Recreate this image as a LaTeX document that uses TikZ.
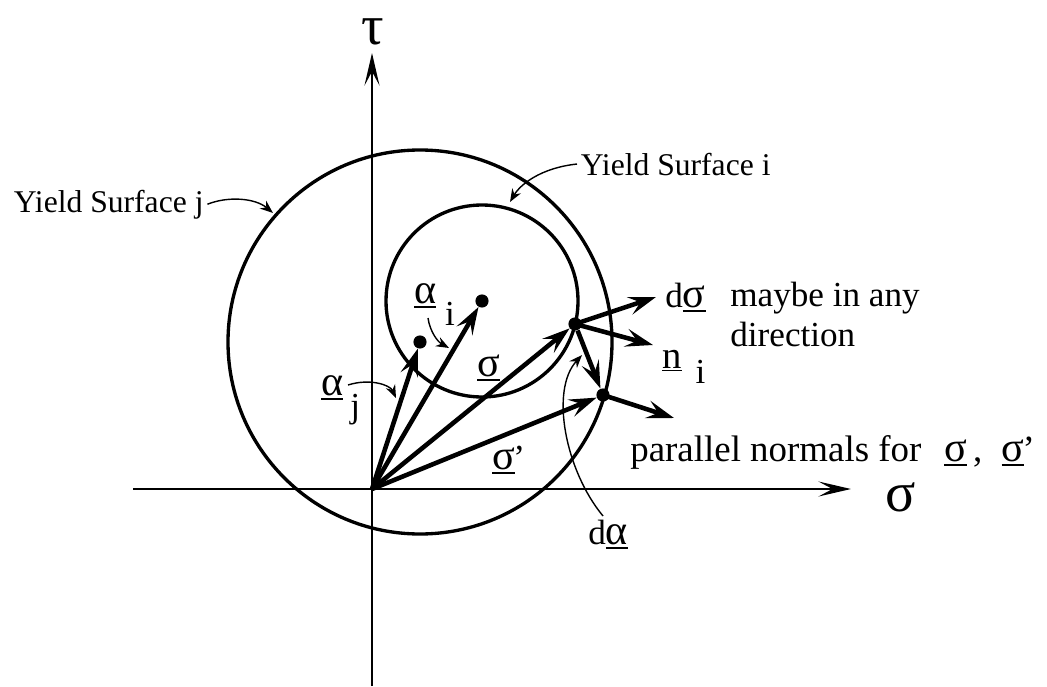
\documentclass[tikz,border=0pt]{standalone}
\usepackage{fontspec}
\setmainfont{Liberation Serif}
\usepackage{tikz}
\usetikzlibrary{arrows.meta}

% underlined Greek vector symbol
\newcommand{\vecg}[1]{\vtop{\hbox{\fontsize{24}{24}\selectfont #1}\kern1.2pt\hrule height 1.2pt}}

\begin{document}
\begin{tikzpicture}[
    x=0.02cm, y=-0.02cm,
    axis/.style={line width=1.6pt, -{Stealth[length=6.5mm, width=3mm, inset=2.8mm]}},
    surf/.style={line width=1.9pt},
    vec/.style={line width=2.6pt, -{Stealth[length=5.5mm, width=3.6mm, inset=2.2mm]}},
    pointer/.style={line width=0.8pt, -{Stealth[length=2.6mm, width=2mm]}},
    dot/.style={circle, fill=black, inner sep=0pt, minimum size=7.5pt},
    lbl/.style={inner sep=0pt, anchor=base west, font=\fontsize{20}{23}\selectfont},
    ys/.style={lbl, inner sep=2pt, font=\fontsize{18}{21}\selectfont},
    big/.style={inner sep=0pt, font=\fontsize{32}{32}\selectfont}
  ]
  \useasboundingbox (0,0) rectangle (1047,686);

  % axes
  \coordinate (O) at (372,489);
  \coordinate (xbeg) at (133,489);
  \coordinate (xtip) at (851,489);
  \coordinate (ybeg) at (372,686);
  \coordinate (ytip) at (372,53);
  \draw[axis] (xbeg) -- (xtip);
  \draw[axis, line width=1.3pt] (ybeg) -- (ytip);
  \node[big] (tau) at (373,32) {τ};
  \node[big] (sig) at (901,497) {σ};

  % centres and yield surfaces
  \node[dot] (aj) at (420,342) {};
  \node[dot] (ai) at (482,301) {};
  \draw[surf] (aj.center) circle[radius=192];
  \draw[surf] (ai.center) circle[radius=96];

  % stress points
  \node[dot] (s) at (575,324) {};
  \node[dot] (sp) at (603,395) {};
  \coordinate (dstip) at (656,297);
  \coordinate (nitip) at (653,345);
  \coordinate (nptip) at (674,418);

  \draw[vec] (O) -- (aj);
  \draw[vec] (O) -- (ai);
  \draw[vec] (O) -- (s);
  \draw[vec] (O) -- (sp);
  \draw[vec] (s) -- (sp);
  \draw[vec] (s.center) -- (dstip);
  \draw[vec] (s.center) -- (nitip);
  \draw[vec] (sp.center) -- (nptip);

  % labels
  \node[lbl] (ajlbl) at (321,395) {\vecg{α}\kern4pt\raisebox{-13pt}{j}};
  \node[lbl] (ailbl) at (414,303) {\vecg{α}\kern5pt\raisebox{-13pt}{i}};
  \node[lbl] (slbl) at (477,376) {\vecg{σ}};
  \node[lbl] (splbl) at (492,469) {\vecg{σ}\kern-1pt'};
  \node[lbl] (dslbl) at (665,307) {d\vecg{σ}};
  \node[lbl] (may) at (730,306) {maybe in any};
  \node[lbl] (dir) at (730,346) {direction};
  \node[lbl] (nilbl) at (662,368) {\underline{\fontsize{22}{22}\selectfont n}\kern8pt\raisebox{-9pt}{i}};
  \node[lbl, font=\fontsize{21}{24}\selectfont] (par) at (630,461)
    {parallel normals for\hspace{13pt}\vecg{σ}\,,\hspace{11pt}\vecg{σ}\kern-1pt'};
  \node[lbl] (dalbl) at (588,544) {d\vecg{α}};
  \node[ys] (ysj) at (10,212) {Yield Surface j};
  \node[ys] (ysi) at (577,175) {Yield Surface i};

  % pointers
  \coordinate (ysjtip) at (273,213);
  \coordinate (ysitip) at (510,202);
  \coordinate (aibeg) at (428,318);
  \coordinate (aitip) at (449,348);
  \coordinate (ajbeg) at (348,385);
  \coordinate (ajtip) at (396,398);
  \coordinate (dabeg) at (603,516);
  \coordinate (datip) at (582,355);
  \draw[pointer] (ysj.east) .. controls (228,196) and (255,198) .. (ysjtip);
  \draw[pointer] (ysi.west) .. controls (540,168) and (520,185) .. (ysitip);
  \draw[pointer] (aibeg) .. controls (430,332) and (438,342) .. (aitip);
  \draw[pointer] (ajbeg) .. controls (370,378) and (390,385) .. (ajtip);
  \draw[pointer] (dabeg) .. controls (565,470) and (550,390) .. (datip);
\end{tikzpicture}
\end{document}
